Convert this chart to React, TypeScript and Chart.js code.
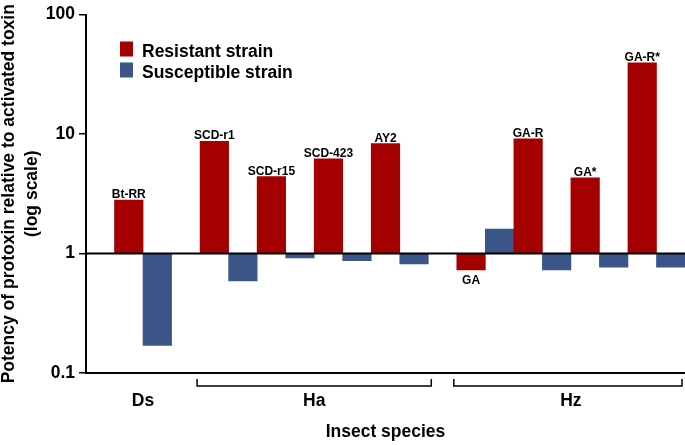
import React, { useEffect, useRef } from 'react';
import { Chart, registerables } from 'chart.js';

Chart.register(...registerables);

const strains = ['Bt-RR', 'SCD-r1', 'SCD-r15', 'SCD-423', 'AY2', 'GA', 'GA-R', 'GA*', 'GA-R*'];
const species = ['Ds', 'Ha', 'Ha', 'Ha', 'Ha', 'Hz', 'Hz', 'Hz', 'Hz'];
const resistant = [2.8, 8.7, 4.4, 6.2, 8.3, 0.73, 9.1, 4.3, 39.5];
const susceptible = [0.17, 0.59, 0.92, 0.87, 0.82, 1.6, 0.73, 0.77, 0.77];
const yTicks = [0.1, 1, 10, 100];
const seriesNames = ['Resistant strain', 'Susceptible strain'];
const yTitle = ['Potency of protoxin relative to activated toxin', '(log scale)'];
const xTitle = 'Insect species';

const RED = '#a50000';
const BLUE = '#3b5589';
const FONT = '"Liberation Sans", Arial, Helvetica, sans-serif';

function buildSlots() {
  const labels: string[] = [];
  const res: any[] = [];
  const sus: any[] = [];
  const redIdx: number[] = [];
  const blueIdx: number[] = [];
  let prev: string | null = null;
  strains.forEach((s, i) => {
    if (species[i] !== prev) {
      labels.push('gap' + i);
      res.push(null);
      sus.push(null);
      prev = species[i];
    }
    redIdx.push(labels.length);
    labels.push(s + ' R');
    res.push([1, resistant[i]]);
    sus.push(null);
    blueIdx.push(labels.length);
    labels.push(s + ' S');
    res.push(null);
    sus.push([1, susceptible[i]]);
  });
  return { labels, res, sus, redIdx, blueIdx };
}

export default function App() {
  const ref = useRef<HTMLCanvasElement | null>(null);

  useEffect(() => {
    const slots = buildSlots();
    const overlay = {
      id: 'overlay',
      afterDatasetsDraw(chart: any) {
        const { ctx, chartArea, scales } = chart;
        const x = scales.x;
        const y = scales.y;
        ctx.save();
        // baseline at 1
        const y1 = y.getPixelForValue(1);
        ctx.strokeStyle = '#000';
        ctx.lineWidth = 2;
        ctx.beginPath();
        ctx.moveTo(chartArea.left, y1);
        ctx.lineTo(chartArea.right, y1);
        ctx.stroke();

        // bar labels
        const meta = chart.getDatasetMeta(0);
        const metaB = chart.getDatasetMeta(1);
        ctx.fillStyle = '#000';
        ctx.font = `bold 12px ${FONT}`;
        ctx.textAlign = 'center';
        slots.redIdx.forEach((si, i) => {
          const el = meta.data[si];
          const v = resistant[i];
          const py = y.getPixelForValue(v);
          if (v >= 1) {
            ctx.textBaseline = 'alphabetic';
            ctx.fillText(strains[i], el.x, py - 2);
          } else {
            ctx.textBaseline = 'top';
            ctx.fillText(strains[i], el.x, py + 5);
          }
        });

        // legend
        const lx = chartArea.left + 34;
        const ly = chartArea.top + 27;
        [RED, BLUE].forEach((c, k) => {
          ctx.fillStyle = c;
          ctx.fillRect(lx, ly + k * 21, 13, 15);
          ctx.fillStyle = '#000';
          ctx.font = `bold 17.5px ${FONT}`;
          ctx.textAlign = 'left';
          ctx.textBaseline = 'alphabetic';
          ctx.fillText(seriesNames[k], lx + 22, ly + 15 + k * 21);
        });

        // species brackets and labels
        const w = x.getPixelForValue(1) - x.getPixelForValue(0);
        const groups: string[] = [];
        species.forEach((s) => { if (!groups.includes(s)) groups.push(s); });
        groups.forEach((g) => {
          const idx = species.map((s, i) => (s === g ? i : -1)).filter((i) => i >= 0);
          const first = idx[0];
          const last = idx[idx.length - 1];
          const left = meta.data[slots.redIdx[first]].x - w / 2;
          const right = metaB.data[slots.blueIdx[last]].x + w / 2;
          const cx = (left + right) / 2;
          if (idx.length > 1) {
            const bl = left - 3;
            const br = Math.min(right + 3, chartArea.right - 3);
            const t = chartArea.bottom + 6;
            const b = chartArea.bottom + 13;
            ctx.strokeStyle = '#000';
            ctx.lineWidth = 1.5;
            ctx.beginPath();
            ctx.moveTo(bl, t);
            ctx.lineTo(bl, b);
            ctx.lineTo(br, b);
            ctx.lineTo(br, t);
            ctx.stroke();
          }
          ctx.fillStyle = '#000';
          ctx.font = `bold 17.5px ${FONT}`;
          ctx.textAlign = 'center';
          ctx.textBaseline = 'middle';
          ctx.fillText(g, cx, chartArea.bottom + 28);
        });
        ctx.restore();
      },
    };

    const chart = new Chart(ref.current as HTMLCanvasElement, {
      type: 'bar',
      data: {
        labels: slots.labels,
        datasets: [
          { label: seriesNames[0], data: slots.res, backgroundColor: RED, grouped: false, barPercentage: 1, categoryPercentage: 1 } as any,
          { label: seriesNames[1], data: slots.sus, backgroundColor: BLUE, grouped: false, barPercentage: 1, categoryPercentage: 1 } as any,
        ],
      },
      options: {
        responsive: false,
        animation: false,
        layout: { padding: { top: 10, left: 0, right: 0, bottom: 0 } },
        plugins: { legend: { display: false }, tooltip: { enabled: false } },
        scales: {
          x: {
            type: 'category',
            ticks: { display: false },
            grid: { display: false },
            border: { display: true, color: '#000', width: 2 },
            title: {
              display: true,
              text: xTitle,
              color: '#000',
              font: { family: FONT, size: 17.5, weight: 'bold' },
              padding: { top: 0, bottom: 2 },
            },
            afterFit: (s: any) => { s.height = 72; },
          },
          y: {
            type: 'logarithmic',
            min: 0.1,
            max: 100,
            afterBuildTicks: (s: any) => { s.ticks = yTicks.map((v) => ({ value: v })); },
            ticks: {
              color: '#000',
              padding: 4,
              font: { family: FONT, size: 17.5, weight: 'bold' },
              callback: (v: any) => String(v),
            },
            grid: { drawOnChartArea: false, drawTicks: true, tickLength: 7, color: '#000', lineWidth: 1.5 },
            border: { display: true, color: '#000', width: 2 },
            title: {
              display: true,
              text: yTitle,
              color: '#000',
              font: { family: FONT, size: 17.5, weight: 'bold', lineHeight: 1.3 },
              padding: { top: -2, bottom: 0 },
            },
            afterFit: (s: any) => { s.width = 86; },
          },
        },
      } as any,
      plugins: [overlay],
    });
    return () => chart.destroy();
  }, []);

  return (
    <div style={{ position: 'fixed', left: 0, top: 0, width: 685, height: 445, background: '#fff' }}>
      <canvas ref={ref} width={685} height={445} style={{ display: 'block' }} />
    </div>
  );
}
